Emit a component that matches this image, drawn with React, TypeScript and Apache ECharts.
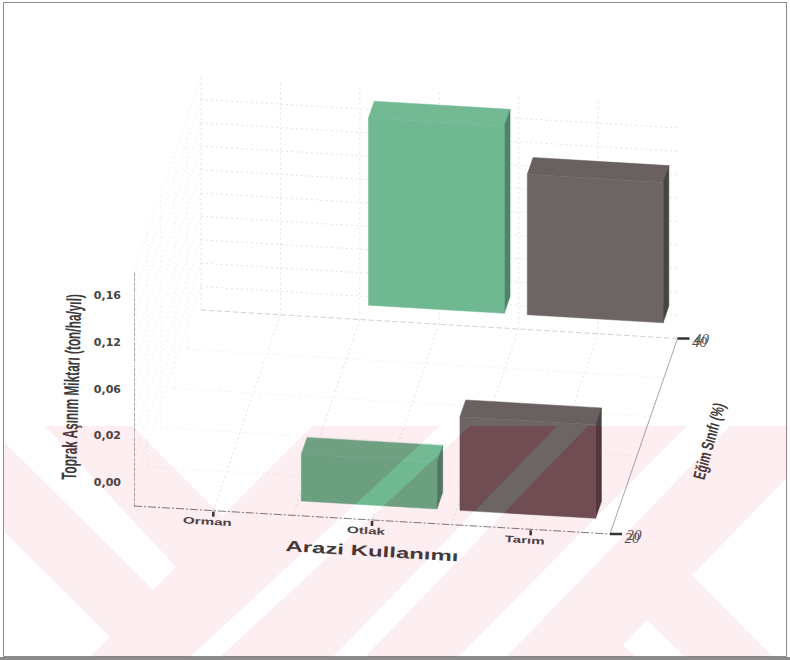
import React, { useEffect, useRef } from "react";
import * as echarts from "echarts";

// Categories and tick labels
const landUses = ["Orman", "Otlak", "Tarım"];
const slopeClasses = ["20", "40"];
const erosionTicks = ["0,00", "0,02", "0,06", "0,12", "0,16"];
const erosionTickValues = [0, 0.02, 0.06, 0.12, 0.16];

// Soil loss (ton/ha/yr) per land use, one list per slope class
const erosionSlope20 = [0, 0.02, 0.06];
const erosionSlope40 = [0, 0.16, 0.12];

const landColors: Record<string, { front: string; top: string; side: string; tint: string }> = {
  Otlak: { front: "#6fb891", top: "#72b994", side: "#4c8468", tint: "rgba(60,120,90,0.2)" },
  Tarım: { front: "#6d6464", top: "#696060", side: "#484444", tint: "rgba(80,10,30,0.2)" },
};

// Floor corners of the oblique box, in page pixels
const FL = [134, 506];
const FR = [610, 534];
const BL = [201, 310];
const BR = [677.5, 338.5];
const GRID_LEFT = 134;
const GRID_WIDTH = 476;
const GRID_TOP = 272;
const GRID_BOTTOM_Y = 506;
const BAR_WIDTH_BANDS = 0.855;
const BAR_DEPTH = 0.086;

const lerp = (a: number, b: number, t: number) => a + (b - a) * t;

// Oblique projection: u across the land uses, v into the depth, h pixels upward
function project(u: number, v: number, h: number) {
  const x = lerp(lerp(FL[0], FR[0], u), lerp(BL[0], BR[0], u), v);
  const y = lerp(lerp(FL[1], FR[1], u), lerp(BL[1], BR[1], u), v);
  return [x, y - h];
}

// Stamp printed over the scanned page: a band with diagonal gaps cut out of it
const stampGaps = [
  [[4, 426], [45, 426], [176, 567], [153, 590], [4, 442]],
  [[4, 532], [110, 637], [90, 657], [4, 657]],
  [[132, 426], [312, 426], [222, 516]],
  [[190, 657], [220, 657], [470, 426], [440, 426]],
  [[333, 657], [365, 657], [588, 426], [557, 426]],
  [[458, 657], [506, 657], [730, 426], [687, 426]],
  [[692, 575], [787, 478], [787, 657], [773, 657]],
  [[647, 620], [623, 645], [636, 657], [685, 657]],
];

function ringPath(points: number[][], clockwise: boolean) {
  let area = 0;
  points.forEach((p, i) => {
    const q = points[(i + 1) % points.length];
    area += p[0] * q[1] - q[0] * p[1];
  });
  const ordered = area > 0 === clockwise ? points : [...points].reverse();
  return "M" + ordered.map((p) => p.join(" ")).join("L") + "Z";
}

const stampPath =
  ringPath([[4, 426], [787, 426], [787, 657], [4, 657]], true) +
  stampGaps.map((g) => ringPath(g, false)).join("");

echarts.graphic.registerShape("stamp", echarts.graphic.extendPath(stampPath, {}));

const FAINT = { stroke: "#e3e3e3", lineWidth: 1, lineDash: [2, 3], fill: "none" };
const FAINTER = { stroke: "#f1f1f1", lineWidth: 1, lineDash: [2, 3], fill: "none" };

function seg(a: number[], b: number[], style: any) {
  return { type: "line", shape: { x1: a[0], y1: a[1], x2: b[0], y2: b[1] }, style };
}

// Walls, floor and the two sheared axes
function renderFrame(_params: any, api: any) {
  const step = api.size([0, 1])[1];
  const top = step * 5;
  const children: any[] = [];
  for (let i = 1; i <= 10; i++) {
    const h = (i * step) / 2;
    if (i < 10) children.push(seg(project(0, 1, h), project(1, 1, h), FAINT));
    children.push(seg(project(0, 0, h), project(0, 1, h), FAINTER));
  }
  for (let i = 0; i <= 5; i++) {
    const u = i / 6;
    children.push(seg(project(u, 1, 0), project(u, 1, top), FAINT));
    if (i > 0) children.push(seg(project(u, 0, 0), project(u, 1, 0), FAINT));
  }
  for (let i = 1; i < 5; i++) {
    children.push(seg(project(0, i / 5, 0), project(1, i / 5, 0), FAINTER));
    children.push(seg(project(0, i / 5, 0), project(0, i / 5, top), FAINTER));
  }
  children.push(seg(BL, BR, { stroke: "#cfcfcf", lineWidth: 1, lineDash: [5, 3], fill: "none" }));
  children.push(seg(FL, FR, { stroke: "#7a7a7a", lineWidth: 1, lineDash: [8, 2, 2, 2], fill: "none" }));
  children.push(seg(FR, BR, { stroke: "#a6a6a6", lineWidth: 1, fill: "none" }));

  landUses.forEach((name, i) => {
    const u = (api.coord([i, 0])[0] - GRID_LEFT) / GRID_WIDTH;
    const base = project(u, 0, 0);
    children.push(
      seg([base[0], base[1] + 1], [base[0], base[1] + 6], { stroke: "#333", lineWidth: 2.5, fill: "none" })
    );
    children.push({
      type: "text",
      x: base[0] - 6,
      y: base[1] + 11,
      rotation: -0.06,
      scaleX: 1.6,
      style: {
        text: name,
        fill: "#444",
        font: "bold 9.5px 'Liberation Sans'",
        align: "center",
        verticalAlign: "middle",
      },
    });
  });

  slopeClasses.forEach((name, i) => {
    const p = i === 0 ? FR : BR;
    children.push(seg([p[0], p[1]], [p[0] + 12, p[1]], { stroke: "#333", lineWidth: 2.5, fill: "none" }));
    [[0, 1.5], [2, -1.5]].forEach((off) => {
      children.push({
        type: "text",
        x: p[0] + 22 + off[0],
        y: p[1] + 2 + off[1],
        style: {
          text: name,
          fill: "#555",
          font: "italic 15px 'Liberation Serif'",
          align: "center",
          verticalAlign: "middle",
        },
      });
    });
  });
  return { type: "group", children };
}

// One oblique box per value: front, top and right-hand faces, with the stamp
// soaking a little deeper into the faces than it does into the bare paper
function renderBar(_params: any, api: any) {
  const land = api.value(0);
  const slope = api.value(1);
  const value = api.value(2);
  if (!value) return null;
  const level = erosionTickValues.indexOf(value);
  const bandW = api.size([1, 0])[0];
  const cx = api.coord([land, 0])[0];
  const baseH = GRID_BOTTOM_Y - api.coord([land, 0])[1];
  const topH = GRID_BOTTOM_Y - api.coord([land, level])[1];
  const u0 = (cx - (bandW * BAR_WIDTH_BANDS) / 2 - GRID_LEFT) / GRID_WIDTH;
  const u1 = (cx + (bandW * BAR_WIDTH_BANDS) / 2 - GRID_LEFT) / GRID_WIDTH;
  const v0 = slope - BAR_DEPTH / 2;
  const v1 = slope + BAR_DEPTH / 2;
  const colors = landColors[landUses[land]];
  const face = (points: number[][], fill: string) => ({
    type: "polygon",
    shape: { points },
    style: { fill, stroke: fill, lineWidth: 0.5 },
  });
  const soak = (points: number[][]) => ({
    type: "stamp",
    style: { fill: colors.tint },
    clipPath: { type: "polygon", shape: { points } },
  });
  const topFace = [project(u0, v1, topH), project(u1, v1, topH), project(u1, v0, topH), project(u0, v0, topH)];
  const sideFace = [project(u1, v0, baseH), project(u1, v1, baseH), project(u1, v1, topH), project(u1, v0, topH)];
  const frontFace = [project(u0, v0, baseH), project(u1, v0, baseH), project(u1, v0, topH), project(u0, v0, topH)];
  return {
    type: "group",
    children: [
      face(topFace, colors.top),
      face(sideFace, colors.side),
      face(frontFace, colors.front),
      soak(topFace),
      soak(sideFace),
      soak(frontFace),
    ],
  };
}

const barRows = (values: number[], slope: number) => values.map((v, i) => [i, slope, v]);

function axisTitle(text: string, x: number, y: number, rotation: number, font: string, scaleX: number) {
  return {
    type: "text",
    x,
    y,
    rotation,
    scaleX,
    z: 50,
    style: { text, fill: "#3d3a3b", font, align: "center", verticalAlign: "middle" },
  };
}

export default function App() {
  const ref = useRef<HTMLDivElement>(null);
  useEffect(() => {
    const chart = echarts.init(ref.current!, null, { renderer: "svg" });
    chart.setOption({
      animation: false,
      backgroundColor: "#ffffff",
      grid: {
        left: GRID_LEFT,
        top: GRID_TOP,
        width: GRID_WIDTH,
        height: GRID_BOTTOM_Y - GRID_TOP,
        containLabel: false,
      },
      xAxis: { type: "category", data: landUses, show: false },
      yAxis: {
        type: "category",
        data: erosionTicks,
        axisLine: { show: true, lineStyle: { color: "#a8a8a8", type: [3, 2], width: 1 } },
        axisTick: { alignWithLabel: true, length: 11, lineStyle: { color: "#333", width: 2 } },
        axisLabel: {
          margin: 13,
          color: "#444",
          fontFamily: "DejaVu Sans",
          fontWeight: "bold",
          fontSize: 11,
        },
        splitLine: { show: false },
      },
      series: [
        {
          type: "custom",
          name: "frame",
          coordinateSystem: "cartesian2d",
          renderItem: renderFrame,
          data: [[0, 0, 0]],
          z: 1,
          silent: true,
        },
        {
          type: "custom",
          name: slopeClasses[1],
          coordinateSystem: "cartesian2d",
          renderItem: renderBar,
          encode: { x: 0, y: 2 },
          data: barRows(erosionSlope40, 1),
          z: 2,
        },
        {
          type: "custom",
          name: slopeClasses[0],
          coordinateSystem: "cartesian2d",
          renderItem: renderBar,
          encode: { x: 0, y: 2 },
          data: barRows(erosionSlope20, 0),
          z: 3,
        },
      ],
      graphic: [
        axisTitle("Toprak Aşınım Miktarı (ton/ha/yıl)", 72, 387, 1.54, "bold 21px 'Liberation Sans'", 0.565),
        axisTitle("Arazi Kullanımı", 372, 551, -0.06, "bold 15px 'Liberation Sans'", 1.6),
        axisTitle("Eğim Sınıfı (%)", 709, 441, 1.3, "bold 17px 'Liberation Sans'", 0.66),
        { type: "rect", z: 60, shape: { x: 3.5, y: 2.5, width: 783, height: 654 }, style: { fill: "none", stroke: "#8a8a8a", lineWidth: 1 } },
        { type: "rect", z: 60, shape: { x: 0, y: 657, width: 790, height: 3 }, style: { fill: "#8c8c8c" } },
        { type: "stamp", z: 70, silent: true, style: { fill: "rgba(230,20,50,0.07)" } },
      ],
    });
    return () => chart.dispose();
  }, []);
  return <div ref={ref} style={{ position: "absolute", left: 0, top: 0, width: 790, height: 660 }} />;
}
